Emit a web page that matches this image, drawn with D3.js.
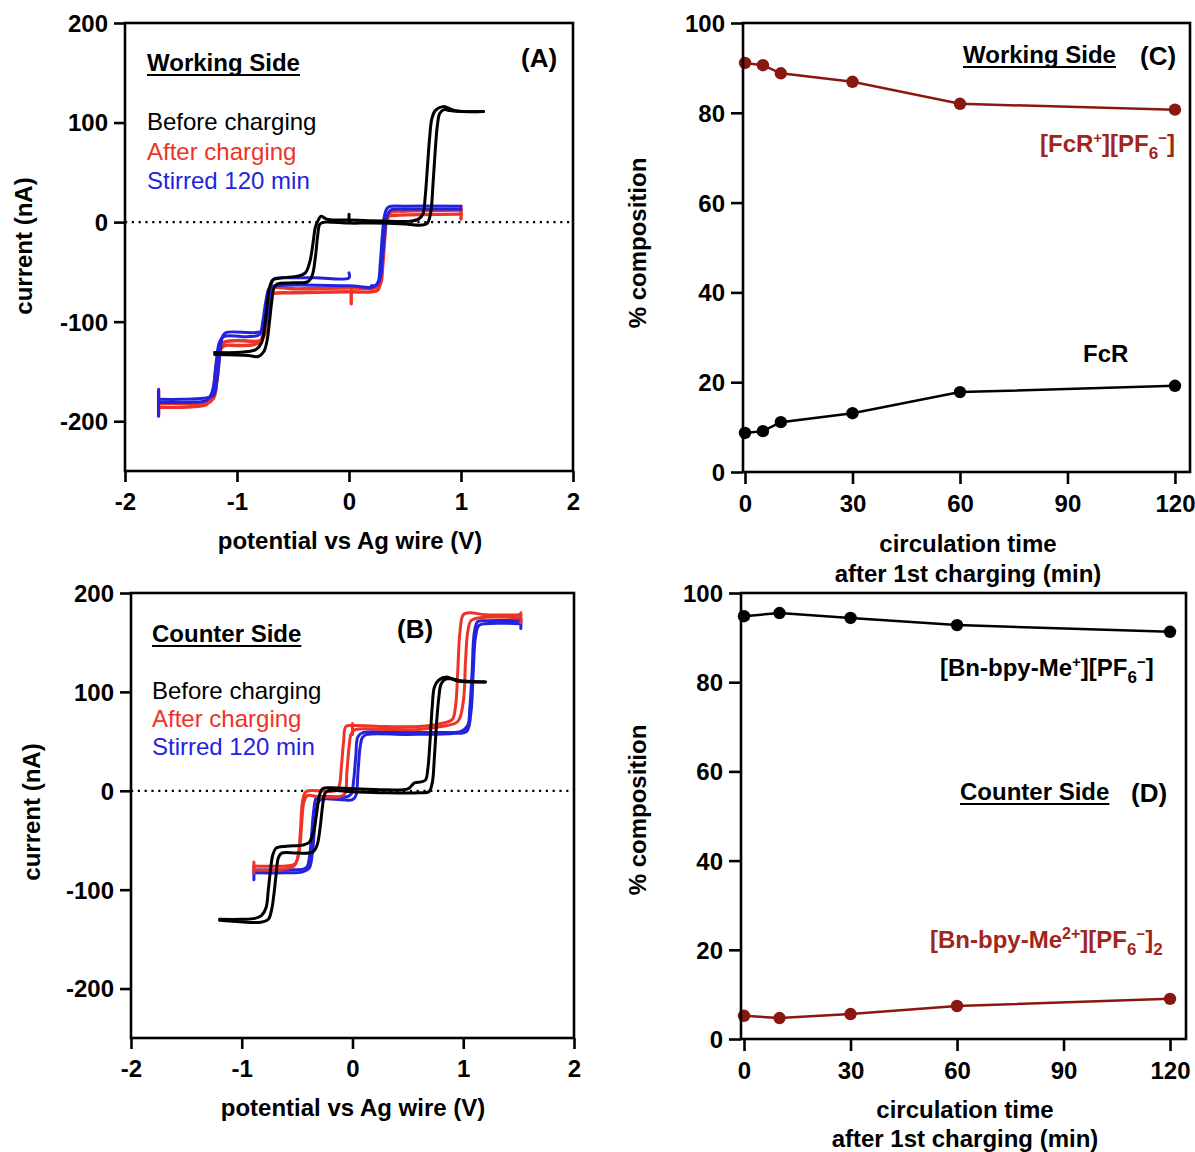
<!DOCTYPE html>
<html><head><meta charset="utf-8">
<script src="https://cdn.jsdelivr.net/npm/d3@7"></script>
<style>
body{margin:0;background:#fff}
text{font-family:"Liberation Sans",Arial,Helvetica,sans-serif}
</style>
</head><body>
<svg id="c" width="1195" height="1152" xmlns="http://www.w3.org/2000/svg"></svg>
<script>
// ---------------- DATA ----------------
const cvTicksX = [-2, -1, 0, 1, 2];
const cvTicksY = [-200, -100, 0, 100, 200];
const timeTicks = [0, 30, 60, 90, 120];
const pctTicks = [0, 20, 40, 60, 80, 100];

// Panel C (working side)
const timeC = [0, 5, 10, 30, 60, 120];
const fcrPlusC = [91.1, 90.6, 88.8, 86.9, 82.0, 80.7];
const fcrC = [8.7, 9.1, 11.1, 13.1, 17.8, 19.2];

// Panel D (counter side)
const timeD = [0, 10, 30, 60, 120];
const bnPlusD = [94.8, 95.5, 94.4, 92.8, 91.3];
const bn2PlusD = [5.2, 4.7, 5.6, 7.4, 9.0];

// Panel A CV traces [V, nA]
const aBlackFwd = [[-1.2,-131],[-1.0,-131],[-0.9,-130],[-0.83,-128],[-0.78,-121],[-0.75,-102],[-0.73,-82],[-0.71,-66],[-0.68,-58],[-0.6,-56],[-0.45,-54],[-0.39,-51],[-0.35,-40],[-0.32,-20],[-0.30,-5],[-0.27,3],[-0.25,6],[-0.2,3],[0,2],[0.3,1],[0.55,1],[0.62,3],[0.66,8],[0.68,25],[0.70,55],[0.72,85],[0.74,104],[0.77,112],[0.84,116],[0.95,112],[1.2,111]];
const aBlackRev = [[1.2,111],[1.0,111],[0.9,112],[0.85,113],[0.81,109],[0.79,98],[0.77,72],[0.75,38],[0.73,10],[0.70,-1],[0.65,-3],[0.5,-2],[0.2,-1],[0,-1],[-0.22,0],[-0.26,-2],[-0.28,-14],[-0.30,-35],[-0.33,-54],[-0.37,-60],[-0.5,-61],[-0.64,-62],[-0.67,-66],[-0.69,-80],[-0.71,-100],[-0.73,-118],[-0.76,-130],[-0.81,-135],[-0.9,-134],[-1.2,-133]];
const aBlackStart = [[0.0,8],[0.0,1]];
const aRedFwd = [[-1.7,-186],[-1.5,-186],[-1.35,-185],[-1.27,-183],[-1.23,-177],[-1.20,-160],[-1.18,-140],[-1.15,-128],[-1.11,-124],[-1.0,-124],[-0.85,-123],[-0.79,-120],[-0.76,-106],[-0.74,-88],[-0.72,-76],[-0.68,-72],[-0.5,-71],[0,-70],[0.2,-70],[0.26,-68],[0.29,-50],[0.31,-20],[0.33,0],[0.36,6],[0.45,7],[1.0,8]];
const aRedRev = [[1.0,12],[0.5,11],[0.37,10],[0.34,5],[0.32,-15],[0.30,-45],[0.28,-62],[0.23,-66],[0,-66],[-0.5,-67],[-0.67,-66],[-0.70,-72],[-0.73,-95],[-0.75,-112],[-0.79,-119],[-1.0,-119],[-1.12,-121],[-1.15,-130],[-1.18,-160],[-1.21,-177],[-1.27,-182],[-1.5,-182],[-1.7,-182]];
const aRedTicks = [[[-1.7,-170],[-1.7,-193]], [[1.0,3],[1.0,16]], [[0.02,-68],[0.02,-82]]];
const aBlueFwd = [[-1.7,-181],[-1.4,-181],[-1.27,-179],[-1.22,-170],[-1.19,-145],[-1.16,-122],[-1.12,-115],[-0.9,-115],[-0.8,-113],[-0.77,-100],[-0.74,-78],[-0.71,-66],[-0.65,-64],[0,-64],[0.22,-65],[0.26,-60],[0.28,-40],[0.30,-10],[0.32,8],[0.35,15],[0.5,16],[1.0,16]];
const aBlueRev = [[1.0,13],[0.5,13],[0.37,12],[0.34,6],[0.32,-10],[0.30,-35],[0.28,-56],[0.25,-63],[0.2,-64]];
const aBlueRet = [[0.0,-51],[0.0,-56],[-0.3,-56],[-0.6,-56],[-0.67,-57],[-0.70,-65],[-0.72,-85],[-0.74,-100],[-0.77,-109],[-0.85,-111],[-1.1,-111],[-1.13,-115],[-1.15,-130],[-1.18,-160],[-1.21,-174],[-1.3,-177],[-1.5,-178],[-1.7,-178]];
const aBlueTicks = [[[-1.7,-168],[-1.7,-195]]];

// Panel B CV traces [V, nA]
const bBlackFwd = [[-1.2,-130],[-1.0,-130],[-0.88,-129],[-0.82,-126],[-0.78,-118],[-0.76,-100],[-0.74,-80],[-0.72,-65],[-0.69,-58],[-0.6,-56],[-0.45,-55],[-0.39,-52],[-0.35,-40],[-0.32,-20],[-0.30,-5],[-0.27,2],[-0.2,3],[0,2],[0.3,1],[0.5,2],[0.56,8],[0.62,9],[0.66,11],[0.68,22],[0.70,50],[0.72,85],[0.74,105],[0.78,112],[0.85,115],[0.95,111],[1.2,110]];
const bBlackRev = [[1.2,110],[1.0,111],[0.9,113],[0.84,113],[0.80,108],[0.78,95],[0.76,70],[0.74,35],[0.72,8],[0.69,-1],[0.6,-2],[0.3,-2],[0,-1],[-0.22,0],[-0.25,-3],[-0.27,-15],[-0.29,-35],[-0.32,-55],[-0.36,-62],[-0.5,-63],[-0.64,-63],[-0.67,-68],[-0.69,-85],[-0.71,-105],[-0.73,-120],[-0.76,-130],[-0.83,-133],[-0.95,-133],[-1.2,-131]];
const bRedFwd = [[-0.89,-80],[-0.7,-80],[-0.6,-79],[-0.52,-75],[-0.48,-60],[-0.46,-35],[-0.44,-12],[-0.41,-5],[-0.3,-6],[-0.12,-6],[-0.07,-3],[-0.05,20],[-0.03,45],[-0.01,58],[0.03,62],[0.3,62],[0.6,62],[0.8,65],[0.95,70],[1.0,90],[1.02,130],[1.04,160],[1.07,172],[1.15,175],[1.52,175]];
const bRedRev = [[1.52,178],[1.2,178],[1.06,180],[1.0,178],[0.97,160],[0.95,120],[0.93,85],[0.9,72],[0.8,68],[0.6,65],[0.3,65],[0,66],[-0.06,65],[-0.08,50],[-0.10,25],[-0.12,5],[-0.15,0],[-0.3,0],[-0.42,-1],[-0.45,-10],[-0.47,-40],[-0.49,-65],[-0.52,-74],[-0.6,-76],[-0.89,-76]];
const bRedTicks = [[[-0.89,-72],[-0.89,-83]], [[1.52,170],[1.52,180]], [[0.0,57],[0.0,68]]];
const bBlueFwd = [[-0.89,-83],[-0.6,-83],[-0.45,-82],[-0.39,-78],[-0.36,-60],[-0.34,-35],[-0.32,-15],[-0.29,-9],[-0.1,-9],[0.0,-9],[0.03,-5],[0.05,20],[0.07,45],[0.09,54],[0.13,57],[0.5,57],[0.9,58],[1.03,60],[1.07,80],[1.09,120],[1.11,155],[1.14,167],[1.2,169],[1.52,169]];
const bBlueRev = [[1.52,172],[1.2,172],[1.13,171],[1.10,160],[1.08,120],[1.06,85],[1.04,66],[0.98,60],[0.8,59],[0.4,59],[0.1,59],[0.05,55],[0.03,35],[0.01,10],[-0.01,-3],[-0.05,-6],[-0.3,-6],[-0.33,-8],[-0.35,-20],[-0.37,-45],[-0.39,-68],[-0.42,-78],[-0.6,-80],[-0.89,-80]];
const bBlueTicks = [[[-0.89,-77],[-0.89,-90]], [[1.52,164],[1.52,174]]];

// ---------------- STYLE ----------------
const C_BLACK = '#000000', C_RED = '#EE3327', C_BLUE = '#2323DD';
const C_DRED = '#8A1810', C_DRED_TXT = '#A1261A';
const FS = 24;

const svg = d3.select('#c');

function frame(g, x, y, xt, yt, tickLen, fmt) {
  const [x0, x1] = x.range(), [y0, y1] = y.range();
  g.append('rect').attr('x', x0).attr('y', y1).attr('width', x1 - x0).attr('height', y0 - y1)
    .attr('fill', 'none').attr('stroke', '#000').attr('stroke-width', 2.6);
  const ax = g.append('g').attr('transform', `translate(0,${y0})`)
    .call(d3.axisBottom(x).tickValues(xt).tickSize(tickLen).tickSizeOuter(0).tickPadding(11).tickFormat(fmt));
  const ay = g.append('g').attr('transform', `translate(${x0},0)`)
    .call(d3.axisLeft(y).tickValues(yt).tickSize(tickLen).tickSizeOuter(0).tickPadding(6).tickFormat(fmt));
  [ax, ay].forEach(a => {
    a.select('.domain').remove();
    a.selectAll('line').attr('stroke', '#000').attr('stroke-width', 2.6);
    a.selectAll('text').attr('fill', '#000').style('font-size', FS + 'px').style('font-weight', 'bold')
      .style('font-family', '"Liberation Sans",Arial,sans-serif');
  });
  ay.selectAll('text').attr('dy', '0.35em');
  ax.selectAll('text').attr('dy', '0.72em');
}

function txt(x, y, s, opts = {}) {
  const t = svg.append('text').attr('x', x).attr('y', y).text(s)
    .style('font-size', (opts.size || FS) + 'px')
    .style('font-weight', opts.bold ? 'bold' : 'normal')
    .attr('fill', opts.color || '#000')
    .attr('text-anchor', opts.anchor || 'start');
  if (opts.rotate) t.attr('transform', `rotate(-90,${x},${y})`);
  return t;
}

function underlined(x, y, s) {
  const t = txt(x, y, s, {bold: true});
  const w = t.node().getComputedTextLength();
  svg.append('line').attr('x1', x).attr('x2', x + w).attr('y1', y + 4).attr('y2', y + 4)
    .attr('stroke', '#000').attr('stroke-width', 2);
}

// ---------------- CV PANELS ----------------
function cvPanel(xr, yr, traces) {
  const g = svg.append('g');
  const x = d3.scaleLinear().domain([-2, 2]).range(xr);
  const y = d3.scaleLinear().domain([-250, 200]).range(yr);
  const line = d3.line().x(d => x(d[0])).y(d => y(d[1])).curve(d3.curveCatmullRom.alpha(0.5));
  g.append('line').attr('x1', xr[0]).attr('x2', xr[1]).attr('y1', y(0)).attr('y2', y(0))
    .attr('stroke', '#000').attr('stroke-width', 2.2).attr('stroke-dasharray', '2.2,4.6');
  traces.forEach(tr => {
    g.append('path').datum(tr.data).attr('d', line).attr('fill', 'none')
      .attr('stroke', tr.color).attr('stroke-width', tr.w || 3)
      .attr('stroke-linejoin', 'round').attr('stroke-linecap', 'round');
  });
  frame(g, x, y, cvTicksX, cvTicksY, 11, d => String(d));
  return {x, y};
}

const aTraces = [
  ...[aRedFwd, aRedRev, ...aRedTicks].map(d => ({data: d, color: C_RED, w: 3.4})),
  ...[aBlueFwd, aBlueRev, aBlueRet, ...aBlueTicks].map(d => ({data: d, color: C_BLUE, w: 3})),
  ...[aBlackFwd, aBlackRev, aBlackStart].map(d => ({data: d, color: C_BLACK, w: 3}))
];
cvPanel([125, 573], [471, 23], aTraces);

const bTraces = [
  ...[bBlueFwd, bBlueRev, ...bBlueTicks].map(d => ({data: d, color: C_BLUE, w: 3})),
  ...[bRedFwd, bRedRev, ...bRedTicks].map(d => ({data: d, color: C_RED, w: 3})),
  ...[bBlackFwd, bBlackRev].map(d => ({data: d, color: C_BLACK, w: 3}))
];
cvPanel([131, 574], [1038, 593], bTraces);

// ---------------- COMPOSITION PANELS ----------------
function compPanel(xr, xd, yr, series) {
  const g = svg.append('g');
  const x = d3.scaleLinear().domain(xd).range(xr);
  const y = d3.scaleLinear().domain([0, 100]).range(yr);
  series.forEach(s => {
    const pts = s.t.map((t, i) => [t, s.v[i]]);
    g.append('path').datum(pts).attr('fill', 'none').attr('stroke', s.color).attr('stroke-width', 2.5)
      .attr('d', d3.line().x(d => x(d[0])).y(d => y(d[1])));
    g.selectAll(null).data(pts).enter().append('circle')
      .attr('cx', d => x(d[0])).attr('cy', d => y(d[1])).attr('r', 6.2).attr('fill', s.color);
  });
  frame(g, x, y, timeTicks, pctTicks, 12, d => String(d));
}

compPanel([743, 1190], [-0.56, 124.2], [472, 23], [
  {t: timeC, v: fcrPlusC, color: C_DRED},
  {t: timeC, v: fcrC, color: C_BLACK}
]);
compPanel([741, 1186], [-0.85, 124.5], [1039, 593], [
  {t: timeD, v: bnPlusD, color: C_BLACK},
  {t: timeD, v: bn2PlusD, color: C_DRED}
]);

// ---------------- TEXT ----------------
const PL = 26; // panel letter size
// Panel A
underlined(147, 71, 'Working Side');
txt(521, 67, '(A)', {bold: true, size: PL});
txt(147, 130, 'Before charging');
txt(147, 160, 'After charging', {color: C_RED});
txt(147, 189, 'Stirred 120 min', {color: C_BLUE});
txt(32, 246, 'current (nA)', {bold: true, anchor: 'middle', rotate: true});
txt(350, 549, 'potential vs Ag wire (V)', {bold: true, anchor: 'middle'});

// Panel B
underlined(152, 642, 'Counter Side');
txt(397, 638, '(B)', {bold: true, size: PL});
txt(152, 699, 'Before charging');
txt(152, 727, 'After charging', {color: C_RED});
txt(152, 755, 'Stirred 120 min', {color: C_BLUE});
txt(40, 812, 'current (nA)', {bold: true, anchor: 'middle', rotate: true});
txt(353, 1116, 'potential vs Ag wire (V)', {bold: true, anchor: 'middle'});

// Panel C
underlined(963, 63, 'Working Side');
txt(1140, 65, '(C)', {bold: true, size: PL});
txt(646, 243, '% composition', {bold: true, anchor: 'middle', rotate: true});
txt(968, 552, 'circulation time', {bold: true, anchor: 'middle'});
txt(968, 582, 'after 1st charging (min)', {bold: true, anchor: 'middle'});
txt(1083, 362, 'FcR', {bold: true});
{
  const t = txt(1175, 152, '', {bold: true, color: C_DRED_TXT, anchor: 'end'});
  t.append('tspan').text('[FcR');
  t.append('tspan').text('+').attr('dy', -9).style('font-size', '15px');
  t.append('tspan').text('][PF').attr('dy', 9);
  t.append('tspan').text('6').attr('dy', 7).style('font-size', '17px');
  t.append('tspan').text('−').attr('dy', -16).style('font-size', '15px');
  t.append('tspan').text(']').attr('dy', 9);
}

// Panel D
txt(646, 810, '% composition', {bold: true, anchor: 'middle', rotate: true});
txt(965, 1118, 'circulation time', {bold: true, anchor: 'middle'});
txt(965, 1147, 'after 1st charging (min)', {bold: true, anchor: 'middle'});
underlined(960, 800, 'Counter Side');
txt(1131, 802, '(D)', {bold: true, size: PL});
{
  const t = txt(940, 676, '', {bold: true, color: '#000'});
  t.append('tspan').text('[Bn-bpy-Me');
  t.append('tspan').text('+').attr('dy', -9).style('font-size', '15px');
  t.append('tspan').text('][PF').attr('dy', 9);
  t.append('tspan').text('6').attr('dy', 7).style('font-size', '17px');
  t.append('tspan').text('−').attr('dy', -16).style('font-size', '15px');
  t.append('tspan').text(']').attr('dy', 9);
}
{
  const t = txt(930, 948, '', {bold: true, color: C_DRED_TXT});
  t.append('tspan').text('[Bn-bpy-Me');
  t.append('tspan').text('2+').attr('dy', -9).style('font-size', '16px');
  t.append('tspan').text('][PF').attr('dy', 9);
  t.append('tspan').text('6').attr('dy', 7).style('font-size', '17px');
  t.append('tspan').text('−').attr('dy', -16).style('font-size', '15px');
  t.append('tspan').text(']').attr('dy', 9);
  t.append('tspan').text('2').attr('dy', 7).style('font-size', '17px');
}
</script>
</body></html>
